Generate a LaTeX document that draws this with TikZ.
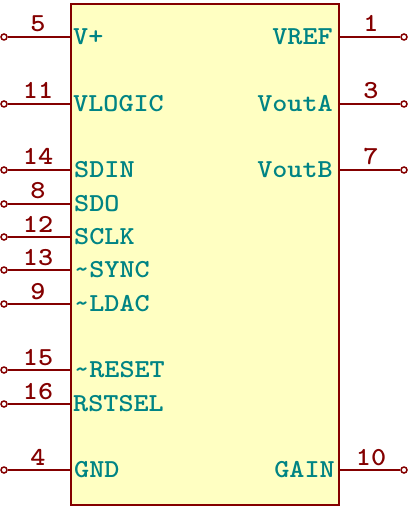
\documentclass[tikz,border=0pt]{standalone}
\definecolor{pinred}{HTML}{840000}
\definecolor{labteal}{HTML}{008484}
\definecolor{bodyfill}{HTML}{FFFFC2}
\tikzset{
  pinname/.style={font=\fontsize{26}{26}\selectfont\ttfamily\bfseries,text=labteal,inner sep=0pt,xscale=1.11},
  pinnum/.style={font=\fontsize{26}{26}\selectfont\ttfamily\bfseries,text=pinred,inner sep=0pt,xscale=1.11,anchor=base},
  pinwire/.style={draw=pinred,line width=1.5bp},
  pinend/.style={circle,draw=pinred,line width=1.5bp,fill=white,minimum size=6bp,inner sep=0pt},
  bodybox/.style={draw=pinred,line width=2bp,fill=bodyfill,inner sep=0pt,minimum width=268bp,minimum height=501bp,anchor=north west}
}
\newcommand{\leftpin}[4]{%
  \node[pinend] (e#1) at (4,#2) {};
  \coordinate (c#1) at (70,#2);
  \draw[pinwire] (e#1) -- (c#1);
  \node[pinnum] (n#1) at (38,#2-5) {#1};
  \node[pinname,anchor=base west] (l#1) at (#4,#2+7.5) {#3};
}
\newcommand{\rightpin}[4]{%
  \node[pinend] (e#1) at (404,#2) {};
  \coordinate (c#1) at (338,#2);
  \draw[pinwire] (e#1) -- (c#1);
  \node[pinnum] (n#1) at (371,#2-5) {#1};
  \node[pinname,anchor=base east] (l#1) at (#4,#2+7.5) {#3};
}
\begin{document}
\begin{tikzpicture}[x=1bp,y=-1bp]
\useasboundingbox (0,0) rectangle (408,508);
\node[bodybox] (body) at (69.5,3) {};
\leftpin{5}{37}{V+}{73}
\leftpin{11}{104}{VLOGIC}{73}
\leftpin{14}{170}{SDIN}{74}
\leftpin{8}{204}{SDO}{74}
\leftpin{12}{237}{SCLK}{74}
\leftpin{13}{270}{\textasciitilde SYNC}{74}
\leftpin{9}{304}{\textasciitilde LDAC}{74}
\leftpin{15}{370}{\textasciitilde RESET}{74}
\leftpin{16}{404}{RSTSEL}{73}
\leftpin{4}{470}{GND}{74}
\rightpin{1}{37}{VREF}{333}
\rightpin{3}{104}{VoutA}{333}
\rightpin{7}{170}{VoutB}{333}
\rightpin{10}{470}{GAIN}{335}
\end{tikzpicture}
\end{document}
